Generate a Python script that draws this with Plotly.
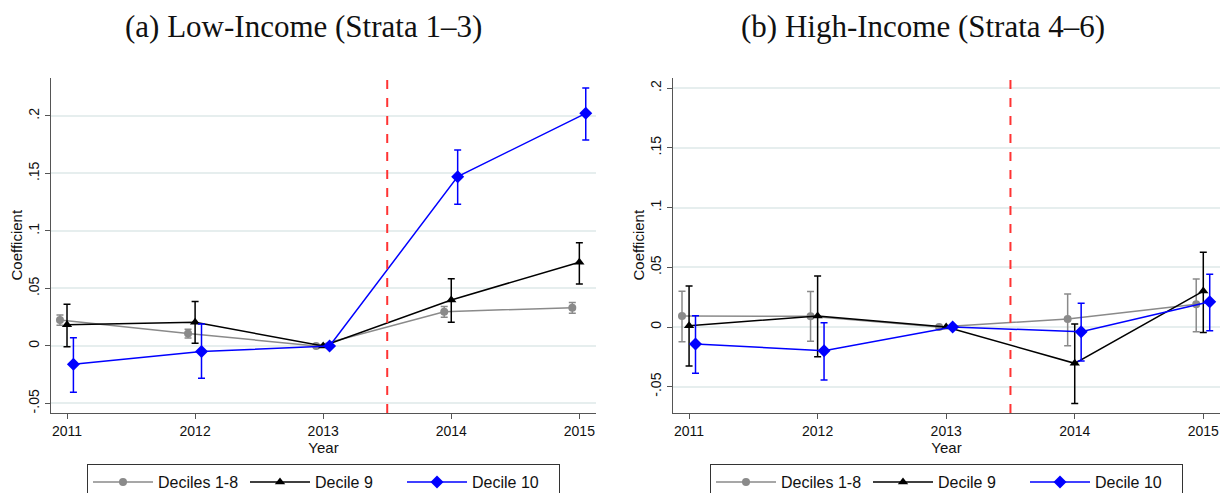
import numpy as np
import plotly.graph_objects as go

# Event-study coefficients by income decile, 2013 is the omitted base year
years = [2011, 2012, 2013, 2014, 2015]
series_names = ["Deciles 1-8", "Decile 9", "Decile 10"]

# (a) Low-income households (strata 1-3)
low_d18 = [0.0226, 0.0108, 0.0, 0.0298, 0.0333]
low_d18_lo = [0.0180, 0.0070, 0.0, 0.0250, 0.0285]
low_d18_hi = [0.0270, 0.0145, 0.0, 0.0342, 0.0378]

low_d9 = [0.0185, 0.0206, 0.0, 0.0400, 0.0728]
low_d9_lo = [-0.0006, 0.0023, 0.0, 0.0206, 0.0539]
low_d9_hi = [0.0362, 0.0386, 0.0, 0.0585, 0.0898]

low_d10 = [-0.0159, -0.0049, 0.0, 0.1472, 0.2023]
low_d10_lo = [-0.0403, -0.0281, 0.0, 0.1232, 0.1791]
low_d10_hi = [0.0072, 0.0190, 0.0, 0.1704, 0.2243]

# (b) High-income households (strata 4-6)
high_d18 = [0.0092, 0.0090, 0.0, 0.0067, 0.0190]
high_d18_lo = [-0.0123, -0.0120, 0.0, -0.0156, -0.0039]
high_d18_hi = [0.0300, 0.0298, 0.0, 0.0276, 0.0402]

high_d9 = [0.0011, 0.0092, 0.0, -0.0304, 0.0301]
high_d9_lo = [-0.0327, -0.0248, 0.0, -0.0640, -0.0045]
high_d9_hi = [0.0343, 0.0427, 0.0, 0.0025, 0.0625]

high_d10 = [-0.0142, -0.0198, 0.0, -0.0039, 0.0212]
high_d10_lo = [-0.0388, -0.0444, 0.0, -0.0285, -0.0031]
high_d10_hi = [0.0095, 0.0036, 0.0, 0.0198, 0.0441]

ytick_vals = [-0.05, 0, 0.05, 0.1, 0.15, 0.2]
ytick_text = ["-.05", "0", ".05", ".1", ".15", ".2"]
policy_year = 2013.5

# Horizontal dodge so the three series' intervals don't overlap
offsets = [-0.055, 0.0, 0.05]
colors = ["#8a8a8a", "#000000", "#0000ff"]
symbols = ["circle", "triangle-up", "diamond"]
msizes = [8, 9, 10]

SANS = "Liberation Sans, Arial, sans-serif"
SERIF = "Liberation Serif, Times New Roman, serif"
INK = "#111111"

fig = go.Figure()

panels = [
    ("x", "y", "legend", [(low_d18, low_d18_lo, low_d18_hi),
                          (low_d9, low_d9_lo, low_d9_hi),
                          (low_d10, low_d10_lo, low_d10_hi)]),
    ("x2", "y2", "legend2", [(high_d18, high_d18_lo, high_d18_hi),
                             (high_d9, high_d9_lo, high_d9_hi),
                             (high_d10, high_d10_lo, high_d10_hi)]),
]

for xref, yref, leg, groups in panels:
    for i, (vals, lo, hi) in enumerate(groups):
        v = np.array(vals)
        up = np.array(hi) - v
        dn = v - np.array(lo)
        fig.add_trace(go.Scatter(
            x=np.array(years) + offsets[i], y=v,
            mode="lines+markers",
            name=series_names[i],
            line=dict(color=colors[i], width=1.5),
            marker=dict(symbol=symbols[i], size=msizes[i], color=colors[i]),
            error_y=dict(type="data", symmetric=False, array=up, arrayminus=dn,
                         color=colors[i], thickness=1.5, width=3.5),
            xaxis=xref, yaxis=yref, legend=leg,
        ))

axis_common = dict(
    showline=True, linecolor="#555555", linewidth=1.2,
    ticks="outside", ticklen=5, tickcolor="#555555", tickwidth=1.2,
    tickfont=dict(family=SANS, size=14, color=INK),
    zeroline=False, mirror=False, automargin=False,
)

xaxis_common = dict(axis_common, tickvals=years, ticktext=[str(y) for y in years],
                    showgrid=False, range=[2010.875, 2015.13],
                    title=dict(text="Year", font=dict(family=SANS, size=15, color=INK),
                               standoff=2))
yaxis_common = dict(axis_common, tickvals=ytick_vals, ticktext=ytick_text, tickangle=-90,
                    showgrid=True, gridcolor="#e6eeee", gridwidth=1.5)

legend_common = dict(orientation="h", y=29 / 493, xanchor="left", yanchor="top",
                     bordercolor="#333333", borderwidth=1, bgcolor="white",
                     font=dict(family=SANS, size=16, color=INK),
                     entrywidth=82, entrywidthmode="pixels", itemwidth=60)

title_font = dict(family=SERIF, size=31, color=INK)
ytitle_font = dict(family=SANS, size=15, color=INK)

fig.update_layout(
    width=1225, height=493,
    margin=dict(l=0, r=0, t=0, b=0, autoexpand=False),
    paper_bgcolor="white", plot_bgcolor="white",
    showlegend=True,
    xaxis=dict(xaxis_common, domain=[51 / 1225, 596 / 1225], anchor="y"),
    yaxis=dict(yaxis_common, domain=[80 / 493, 415 / 493], anchor="x", range=[-0.0583, 0.233]),
    xaxis2=dict(xaxis_common, domain=[673 / 1225, 1220 / 1225], anchor="y2"),
    yaxis2=dict(yaxis_common, domain=[80 / 493, 415 / 493], anchor="x2", range=[-0.072, 0.2085]),
    legend=dict(legend_common, x=87 / 1225),
    legend2=dict(legend_common, x=710 / 1225),
    annotations=[
        dict(text="(a) Low-Income (Strata 1\u20133)", x=303 / 1225, y=1 - 26 / 493,
             xref="paper", yref="paper", showarrow=False, xanchor="center", yanchor="middle",
             font=title_font),
        dict(text="(b) High-Income (Strata 4\u20136)", x=923 / 1225, y=1 - 26 / 493,
             xref="paper", yref="paper", showarrow=False, xanchor="center", yanchor="middle",
             font=title_font),
        dict(text="Coefficient", x=16 / 1225, y=0.5, xref="paper", yref="y domain",
             textangle=-90, showarrow=False, xanchor="center", yanchor="middle",
             font=ytitle_font),
        dict(text="Coefficient", x=638 / 1225, y=0.5, xref="paper", yref="y2 domain",
             textangle=-90, showarrow=False, xanchor="center", yanchor="middle",
             font=ytitle_font),
    ],
)

# Zero reference line and the policy-change marker in each panel
for xr, yr in [("x", "y"), ("x2", "y2")]:
    fig.add_shape(type="line", xref=f"{xr} domain", yref=yr, x0=0, x1=1, y0=0, y1=0,
                  line=dict(color="#999999", width=1.2, dash="dash"), layer="below")
    fig.add_shape(type="line", xref=xr, yref=f"{yr} domain", x0=policy_year, x1=policy_year,
                  y0=0, y1=1, line=dict(color="#ff3333", width=2, dash="dash"))

fig.write_html("out.html")
